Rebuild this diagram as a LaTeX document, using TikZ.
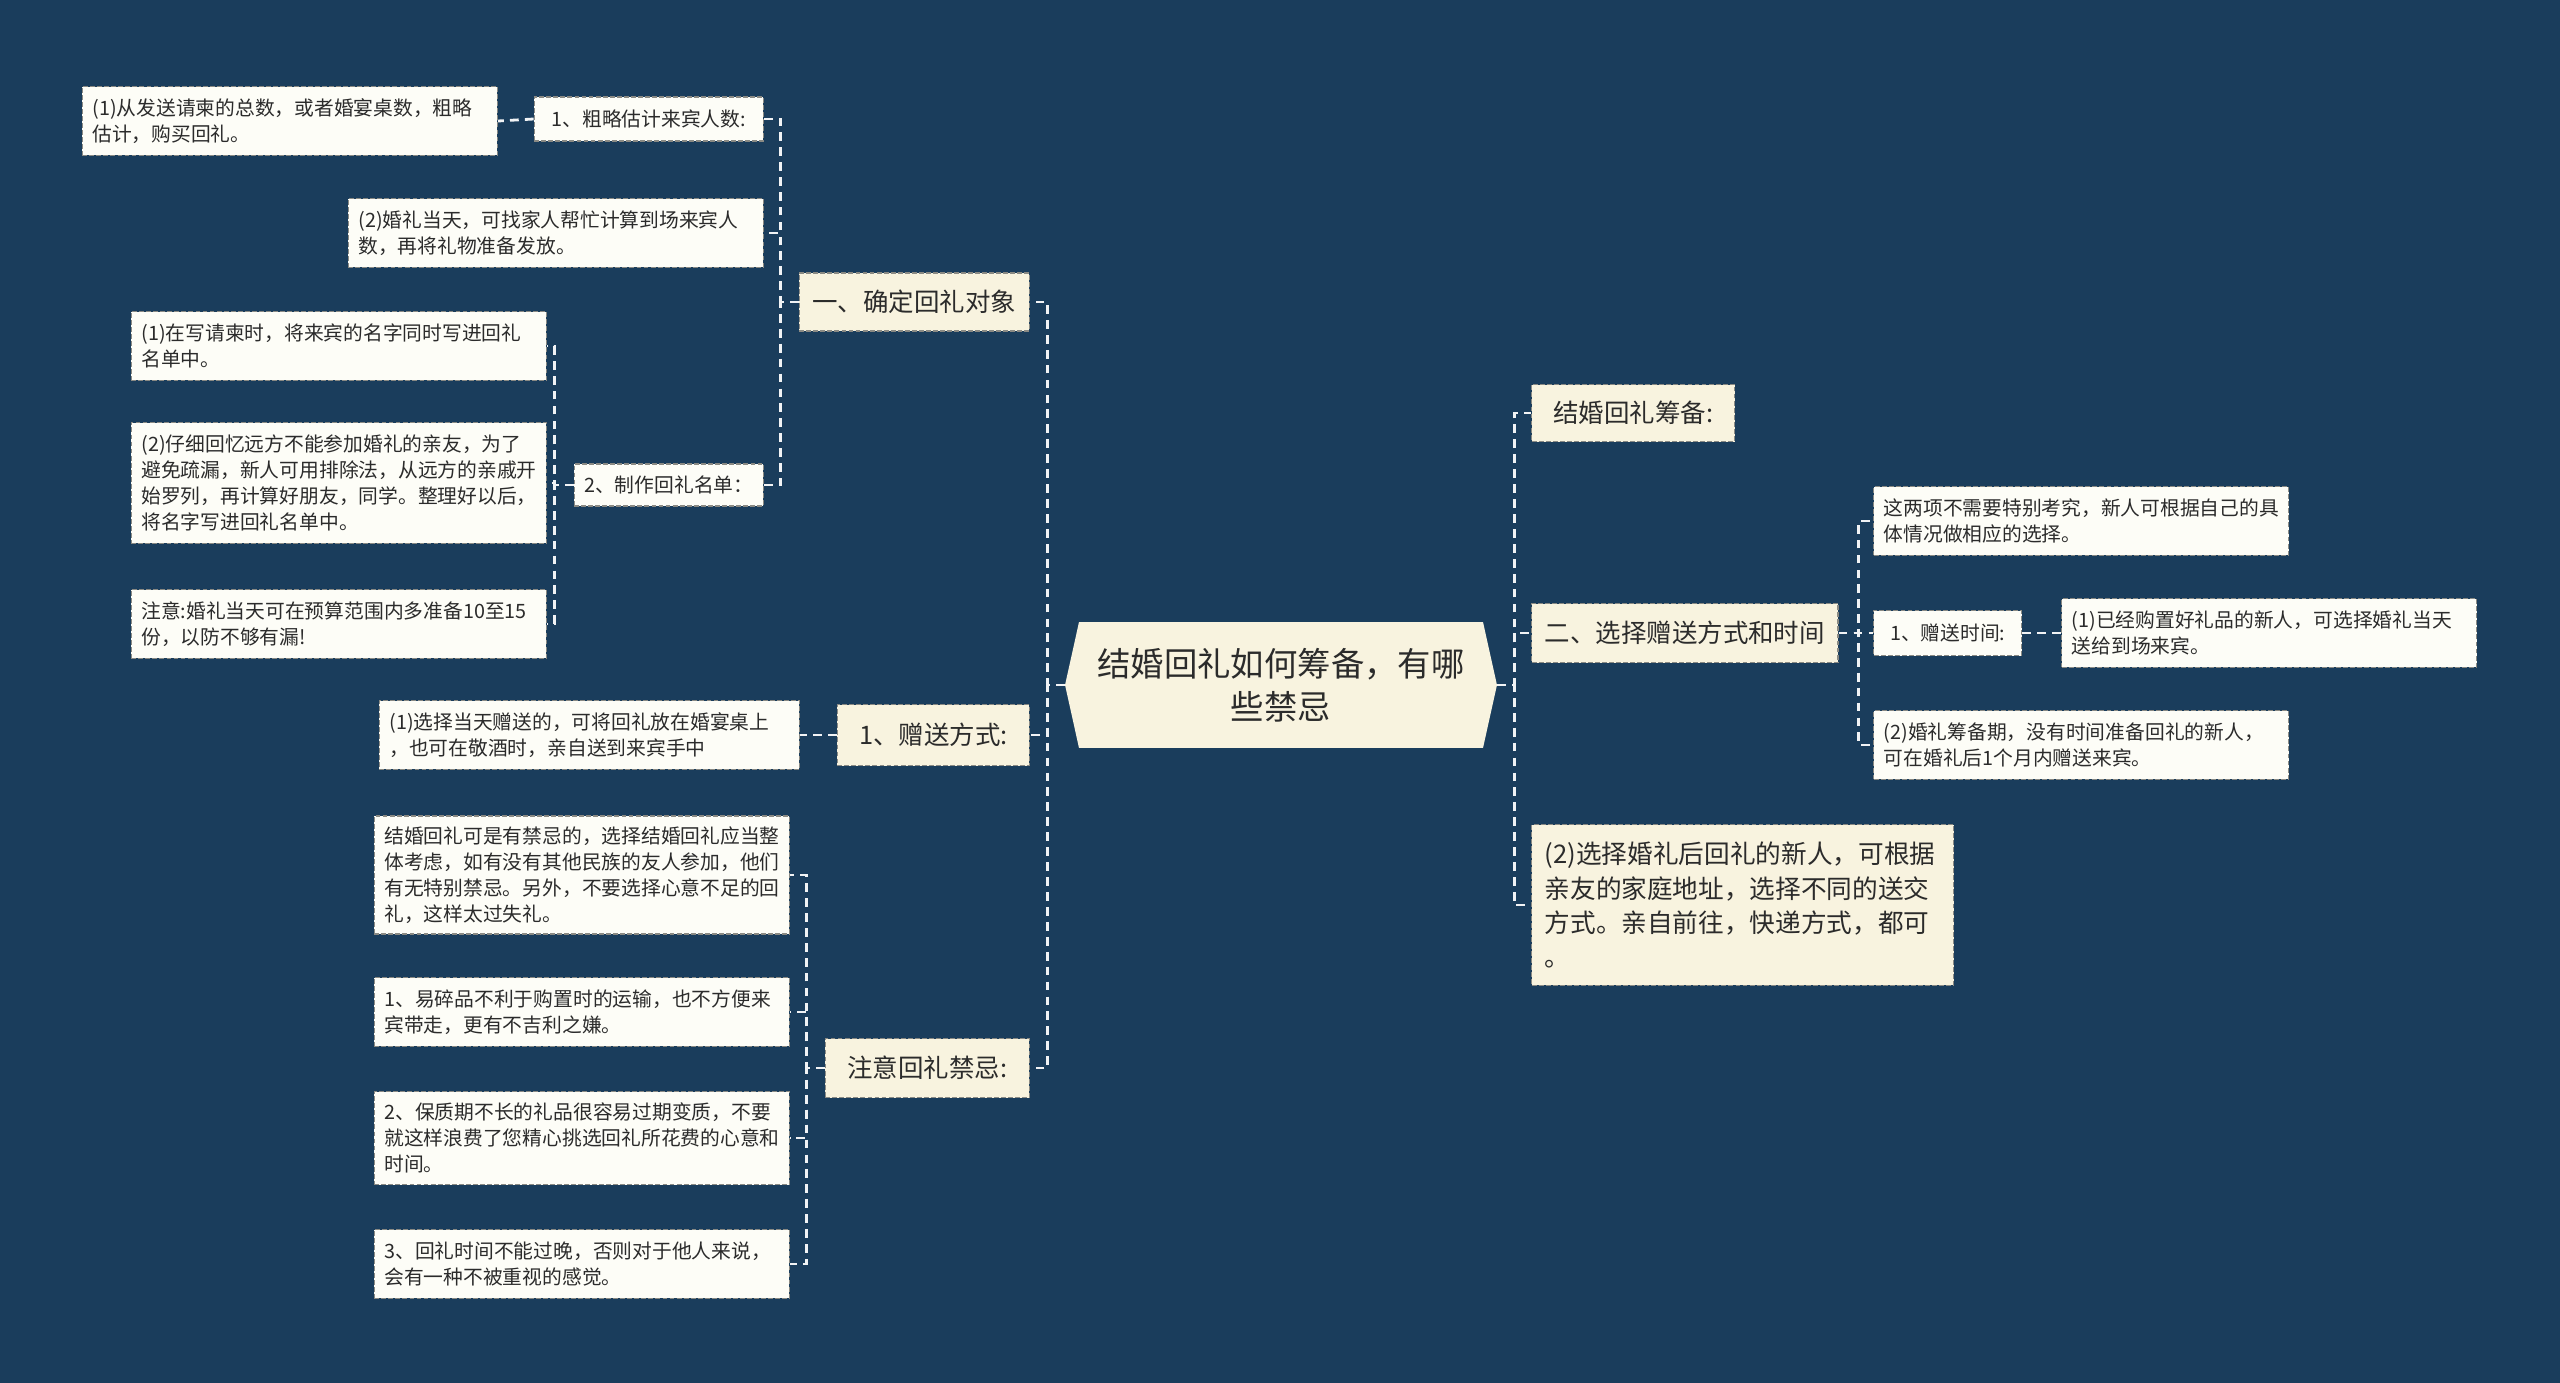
\documentclass[tikz,border=0pt]{standalone}
\usepackage{fontspec}
\setmainfont{Noto Sans CJK SC}
\usepackage{tikz}
\usetikzlibrary{shapes.symbols}
\usetikzlibrary{positioning}

\definecolor{bg_blue}{HTML}{1A3D5C}
\definecolor{topic_cream}{HTML}{F8F3DF}
\definecolor{leaf_cream}{HTML}{FDFDF7}
\definecolor{edge_gray}{HTML}{8A8A84}
\definecolor{ink}{HTML}{2B2B2B}

\tikzset{
  box_style/.style={rectangle, draw=edge_gray, line width=0.8pt,
    dash pattern=on 2.8pt off 1.2pt, text=ink},
  topic_style/.style={box_style, fill=topic_cream,
    font=\fontsize{14.5}{19}\selectfont, inner xsep=0.26cm},
  sub_style/.style={box_style, fill=leaf_cream,
    font=\fontsize{11.25}{14.8}\selectfont, inner xsep=0.2cm},
  leaf_style/.style={box_style, fill=leaf_cream,
    font=\fontsize{11.25}{14.8}\selectfont, inner xsep=0.2cm,
    align=left, text width=7.9cm, minimum height=1.37cm},
  link_style/.style={draw=white!94!bg_blue, line width=1.6pt,
    dash pattern=on 5pt off 3.5pt},
}

\begin{document}
\begin{tikzpicture}[x=0.02cm, y=-0.02cm]

  \fill[bg_blue] (0,0) rectangle (2560,1383);

  % central topic
  \node[shape=signal, signal to=west and east, signal pointer angle=155,
    fill=topic_cream, text=ink, align=center,
    font=\fontsize{19}{24.5}\selectfont,
    minimum width=8.64cm, minimum height=2.52cm] (main_topic) at (1281,685)
    {结婚回礼如何筹备，有哪\\些禁忌};

  % left branches
  \node[topic_style, anchor=east, minimum width=4.6cm, minimum height=1.16cm]
    (ret_target) at (1030,302) {一、确定回礼对象};
  \node[topic_style, anchor=east, minimum width=3.84cm, minimum height=1.22cm]
    (give_way) at (1030,735) {1、赠送方式:};
  \node[topic_style, anchor=east, minimum width=4.08cm, minimum height=1.18cm]
    (taboo) at (1030,1068) {注意回礼禁忌:};

  \node[sub_style, anchor=east, minimum width=4.58cm, minimum height=0.88cm]
    (est_guests) at (764,119) {1、粗略估计来宾人数:};
  \node[leaf_style, anchor=east, text width=7.9cm] (est_total) at (498,121)
    {(1)从发送请柬的总数，或者婚宴桌数，粗略\\估计，购买回礼。};
  \node[leaf_style, anchor=east] (count_day) at (764,233)
    {(2)婚礼当天，可找家人帮忙计算到场来宾人\\数，再将礼物准备发放。};
  \node[sub_style, anchor=east, minimum width=3.6cm, minimum height=0.84cm]
    (name_list) at (764,485) {2、制作回礼名单：};

  \node[leaf_style, anchor=east] (list_invite) at (547,346)
    {(1)在写请柬时，将来宾的名字同时写进回礼\\名单中。};
  \node[leaf_style, anchor=east, minimum height=2.42cm] (list_far) at (547,483)
    {(2)仔细回忆远方不能参加婚礼的亲友，为了\\避免疏漏，新人可用排除法，从远方的亲戚开\\始罗列，再计算好朋友，同学。整理好以后，\\将名字写进回礼名单中。};
  \node[leaf_style, anchor=east] (list_spare) at (547,624)
    {注意:婚礼当天可在预算范围内多准备10至15\\份，以防不够有漏!};

  \node[leaf_style, anchor=east, text width=8cm] (give_day) at (800,735)
    {(1)选择当天赠送的，可将回礼放在婚宴桌上\\，也可在敬酒时，亲自送到来宾手中};

  \node[leaf_style, anchor=east, minimum height=2.36cm] (taboo_main) at (790,875)
    {结婚回礼可是有禁忌的，选择结婚回礼应当整\\体考虑，如有没有其他民族的友人参加，他们\\有无特别禁忌。另外，不要选择心意不足的回\\礼，这样太过失礼。};
  \node[leaf_style, anchor=east] (taboo_fragile) at (790,1012)
    {1、易碎品不利于购置时的运输，也不方便来\\宾带走，更有不吉利之嫌。};
  \node[leaf_style, anchor=east, minimum height=1.86cm] (taboo_expiry) at (790,1138)
    {2、保质期不长的礼品很容易过期变质，不要\\就这样浪费了您精心挑选回礼所花费的心意和\\时间。};
  \node[leaf_style, anchor=east] (taboo_late) at (790,1264)
    {3、回礼时间不能过晚，否则对于他人来说，\\会有一种不被重视的感觉。};

  % right branches
  \node[topic_style, anchor=west, minimum width=4.06cm, minimum height=1.14cm]
    (prepare) at (1531,413) {结婚回礼筹备:};
  \node[topic_style, anchor=west, minimum width=6.08cm, minimum height=1.18cm]
    (way_time) at (1531,633) {二、选择赠送方式和时间};
  \node[topic_style, anchor=west, align=left, text width=7.92cm,
    minimum height=3.22cm, font=\fontsize{14.6}{19.4}\selectfont]
    (after_wedding) at (1531,905)
    {(2)选择婚礼后回礼的新人，可根据\\亲友的家庭地址，选择不同的送交\\方式。亲自前往，快递方式，都可\\。};

  \node[leaf_style, anchor=west] (no_fuss) at (1873,521)
    {这两项不需要特别考究，新人可根据自己的具\\体情况做相应的选择。};
  \node[sub_style, anchor=west, minimum width=2.96cm, minimum height=0.9cm]
    (give_time) at (1873,633) {1、赠送时间:};
  \node[leaf_style, anchor=west] (prep_period) at (1873,745)
    {(2)婚礼筹备期，没有时间准备回礼的新人，\\可在婚礼后1个月内赠送来宾。};
  \node[leaf_style, anchor=west] (bought) at (2061,633)
    {(1)已经购置好礼品的新人，可选择婚礼当天\\送给到场来宾。};

  % connectors
  \draw[link_style] (main_topic.west) -- ++(-17,0) |- (ret_target.east);
  \draw[link_style] (main_topic.west) -- ++(-17,0) |- (give_way.east);
  \draw[link_style] (main_topic.west) -- ++(-17,0) |- (taboo.east);

  \draw[link_style] (ret_target.west) -- ++(-18,0) |- (est_guests.east);
  \draw[link_style] (ret_target.west) -- ++(-18,0) |- (count_day.east);
  \draw[link_style] (ret_target.west) -- ++(-18,0) |- (name_list.east);
  \draw[link_style] (est_guests.west) -- (est_total.east);

  \draw[link_style] (name_list.west) -- ++(-19,0) |- (list_invite.east);
  \draw[link_style] (name_list.west) -- ++(-19,0) |- (list_far.east);
  \draw[link_style] (name_list.west) -- ++(-19,0) |- (list_spare.east);

  \draw[link_style] (give_way.west) -- (give_day.east);

  \draw[link_style] (taboo.west) -- ++(-18,0) |- (taboo_main.east);
  \draw[link_style] (taboo.west) -- ++(-18,0) |- (taboo_fragile.east);
  \draw[link_style] (taboo.west) -- ++(-18,0) |- (taboo_expiry.east);
  \draw[link_style] (taboo.west) -- ++(-18,0) |- (taboo_late.east);

  \draw[link_style] (main_topic.east) -- ++(17,0) |- (prepare.west);
  \draw[link_style] (main_topic.east) -- ++(17,0) |- (way_time.west);
  \draw[link_style] (main_topic.east) -- ++(17,0) |- (after_wedding.west);

  \draw[link_style] (way_time.east) -- ++(20,0) |- (no_fuss.west);
  \draw[link_style] (way_time.east) -- ++(20,0) |- (give_time.west);
  \draw[link_style] (way_time.east) -- ++(20,0) |- (prep_period.west);
  \draw[link_style] (give_time.east) -- (bought.west);

\end{tikzpicture}
\end{document}
